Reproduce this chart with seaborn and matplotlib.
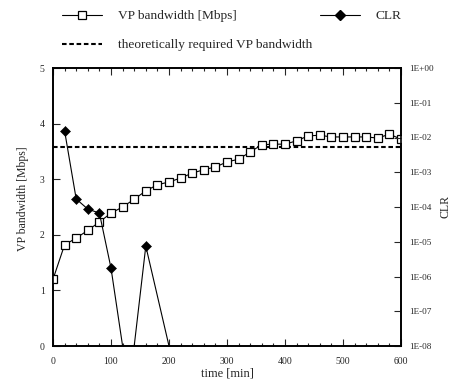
import math
import matplotlib
matplotlib.use("Agg")
import matplotlib.pyplot as plt
import matplotlib.ticker as mticker
from matplotlib.lines import Line2D
import seaborn as sns

# ---- data ----
time_min = [0, 20, 40, 60, 80, 100, 120, 140, 160, 180, 200, 220, 240, 260, 280, 300,
            320, 340, 360, 380, 400, 420, 440, 460, 480, 500, 520, 540, 560, 580, 600]
vp_bandwidth = [1.20, 1.82, 1.94, 2.08, 2.23, 2.39, 2.50, 2.64, 2.79, 2.90, 2.95, 3.02,
                3.11, 3.17, 3.22, 3.31, 3.36, 3.49, 3.62, 3.63, 3.63, 3.69, 3.78, 3.79,
                3.76, 3.76, 3.76, 3.76, 3.74, 3.81, 3.72]
clr_time = [20, 40, 60, 80, 100, 120, 140, 160, 200]
clr_values = [1.55e-2, 1.7e-4, 8.7e-5, 6.7e-5, 1.75e-6, 1e-8, 1e-8, 7.5e-6, 1e-8]
clr_marked = [True, True, True, True, True, False, False, True, False]
required_bw = 3.58
clr_ticks = [1e-8, 1e-7, 1e-6, 1e-5, 1e-4, 1e-3, 1e-2, 1e-1, 1e0]

sns.set_style("ticks")
plt.rcParams['font.family'] = ['Liberation Serif', 'DejaVu Serif']

fig = plt.figure(figsize=(4.58, 3.83), dpi=100)
ax = fig.add_axes([53/458, 1-346/383, 348/458, 278/383])
ax2 = ax.twinx()

sns.lineplot(x=time_min, y=vp_bandwidth, ax=ax, color='black', linewidth=0.8,
             marker='s', markersize=5.6, markerfacecolor='white',
             markeredgecolor='black', markeredgewidth=0.9, zorder=3)
ax.axhline(required_bw, color='black', linewidth=1.5, linestyle=(0, (2.2, 1.3)), zorder=2)

sns.lineplot(x=clr_time, y=clr_values, ax=ax2, color='black', linewidth=0.8, zorder=3)
mk_t = [t for t, m in zip(clr_time, clr_marked) if m]
mk_v = [v for v, m in zip(clr_values, clr_marked) if m]
sns.scatterplot(x=mk_t, y=mk_v, ax=ax2, marker='D', s=26, color='black',
                edgecolor='black', zorder=4)

ax.set_xlim(0, 600)
ax.set_ylim(0, 5)
ax2.set_yscale('log')
ax2.set_ylim(1e-8, 1)

ax.xaxis.set_major_locator(mticker.MultipleLocator(100))
ax.xaxis.set_minor_locator(mticker.MultipleLocator(20))
ax.yaxis.set_major_locator(mticker.MultipleLocator(1))
ax.tick_params(axis='x', which='both', direction='in', top=True, bottom=True,
               labelsize=7, width=0.8, pad=8)
ax.tick_params(axis='x', which='major', length=5)
ax.tick_params(axis='x', which='minor', length=2.5)
ax.tick_params(axis='y', which='major', direction='in', length=5, width=0.8,
               labelsize=7, pad=6)
ax2.yaxis.set_major_locator(mticker.FixedLocator(clr_ticks))
ax2.yaxis.set_minor_locator(mticker.NullLocator())
ax2.yaxis.set_major_formatter(mticker.FuncFormatter(
    lambda v, p: "1E{:+03d}".format(int(round(math.log10(v))))))
ax2.tick_params(axis='y', which='major', direction='in', length=5, width=0.8,
                labelsize=6.6, pad=6)

for a in (ax, ax2):
    for s in a.spines.values():
        s.set_linewidth(1.2)
        s.set_color('black')
        s.set_visible(True)

ax.set_xlabel('time [min]', fontsize=9, labelpad=1)
ax.set_ylabel('VP bandwidth [Mbps]', fontsize=8.5)
ax.yaxis.set_label_coords(-0.07, 0.53)
ax2.set_ylabel('CLR', fontsize=8.5)
ax2.yaxis.set_label_coords(1.11, 0.5)

h_vp = Line2D([], [], color='black', linewidth=0.8, marker='s', markersize=5.6,
              markerfacecolor='white', markeredgecolor='black', markeredgewidth=0.9)
h_req = Line2D([], [], color='black', linewidth=1.5, linestyle=(0, (2.2, 1.3)))
h_clr = Line2D([], [], color='black', linewidth=0.8, marker='D', markersize=5)

leg1 = fig.legend([h_vp, h_req], ['VP bandwidth [Mbps]', 'theoretically required VP bandwidth'],
                  loc='upper left', bbox_to_anchor=(50/458, 1.005), frameon=False,
                  fontsize=9.6, handlelength=3.0, labelspacing=1.25, handletextpad=1.2,
                  numpoints=1)
leg2 = fig.legend([h_clr], ['CLR'], loc='upper left', bbox_to_anchor=(308/458, 1.005),
                  frameon=False, fontsize=9.6, handlelength=3.0, handletextpad=1.2,
                  numpoints=1)

fig.savefig('out.png', dpi=100)
